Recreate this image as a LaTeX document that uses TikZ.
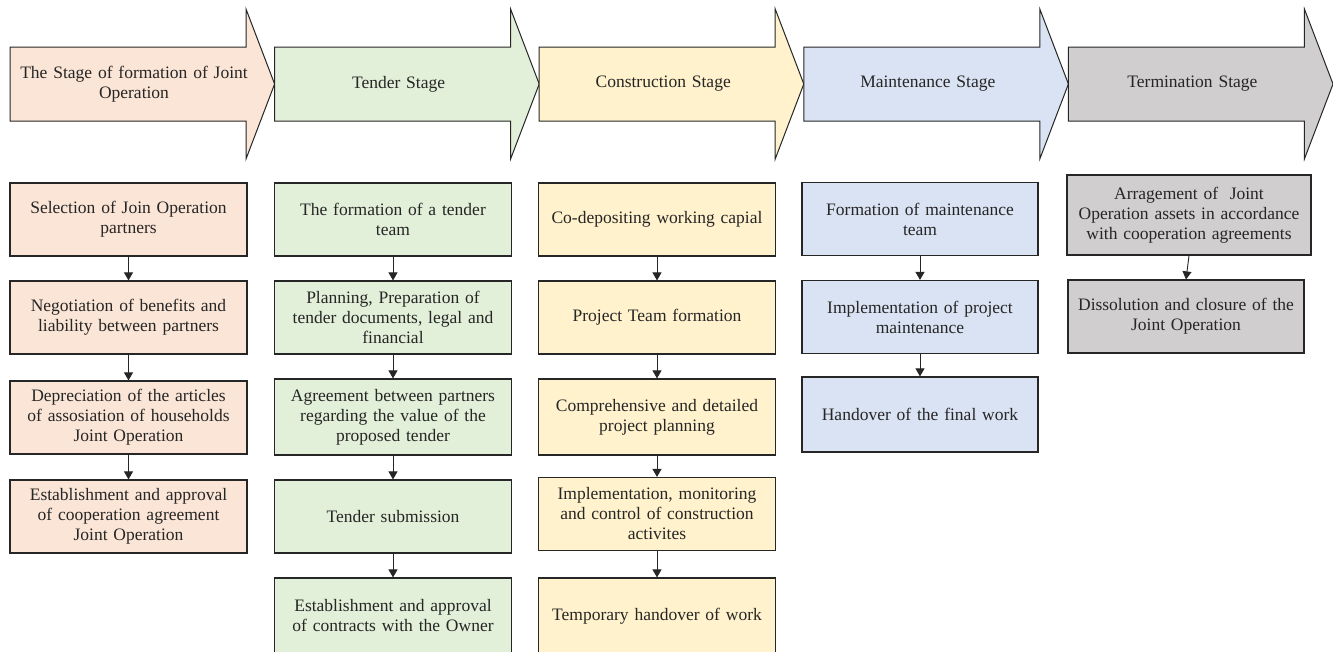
\documentclass[tikz,border=0pt]{standalone}
\usepackage{fontspec}
\setmainfont{Liberation Serif}
\usetikzlibrary{arrows.meta}

\definecolor{peach}{HTML}{FBE5D6}
\definecolor{leaf}{HTML}{E2F0D9}
\definecolor{sand}{HTML}{FFF2CC}
\definecolor{sky}{HTML}{DAE3F3}
\definecolor{stone}{HTML}{D0CECE}

\tikzset{
	stagearrow/.style={draw=black!85, line width=1pt},
	stagetext/.style={text width=228pt, align=center, text=black!85, font=\fontsize{17.5}{20}\selectfont},
	stepbox/.style={draw=black!85, line width=1.2pt, minimum width=237pt, minimum height=73pt,
		text width=230pt, align=center, inner sep=0pt, text=black!85, font=\fontsize{17.5}{20}\selectfont},
	link/.style={-{Triangle[length=8pt,width=9pt]}, line width=0.9pt, black!85}
}

\begin{document}
\begin{tikzpicture}[x=1pt, y=-1pt]
		\path[use as bounding box, fill=white] (0,0) rectangle (1333,651);

		% stage arrows
		\foreach \x/\c/\n/\t in {10/peach/jo/{The Stage of formation of Joint\\Operation},
			274.6/leaf/tender/Tender Stage, 539.2/sand/constr/Construction Stage,
			803.8/sky/maint/Maintenance Stage, 1068.4/stone/term/Termination Stage}
		{
			\draw[stagearrow, fill=\c] (\x,47) -- ++(236,0) -- ++(0,-38) -- ++(28.6,75)
				-- ++(-28.6,75) -- ++(0,-38) -- ++(-236,0) -- cycle;
			\node[stagetext] (\n) at ({\x+124},84) {\t};
		}

		% formation of joint operation
		\node[stepbox, fill=peach] (jo1) at (128.5, 219.5) {Selection of Join Operation\\partners};
		\node[stepbox, fill=peach] (jo2) at (128.5, 317.5) {Negotiation of benefits and\\liability between partners};
		\node[stepbox, fill=peach] (jo3) at (128.5, 417.5) {Depreciation of the articles\\of assosiation of households\\Joint Operation};
		\node[stepbox, fill=peach] (jo4) at (128.5, 516.5) {Establishment and approval\\of cooperation agreement\\Joint Operation};

		% tender
		\node[stepbox, fill=leaf] (te1) at (393, 219.5) {The formation of a tender\\team};
		\node[stepbox, fill=leaf] (te2) at (393, 317.5) {Planning, Preparation of\\tender documents, legal and\\financial};
		\node[stepbox, fill=leaf, minimum height=76pt] (te3) at (393, 417) {Agreement between partners\\regarding the value of the\\proposed tender};
		\node[stepbox, fill=leaf] (te4) at (393, 516.5) {Tender submission};
		\node[stepbox, fill=leaf, minimum height=76pt] (te5) at (393, 616) {Establishment and approval\\of contracts with the Owner};

		% construction
		\node[stepbox, fill=sand] (co1) at (657, 219.5) {Co-depositing working capial};
		\node[stepbox, fill=sand] (co2) at (657, 317.5) {Project Team formation};
		\node[stepbox, fill=sand, minimum height=76pt] (co3) at (657, 417) {Comprehensive and detailed\\project planning};
		\node[stepbox, fill=sand] (co4) at (657, 514) {Implementation, monitoring\\and control of construction\\activites};
		\node[stepbox, fill=sand, minimum height=76pt] (co5) at (657, 616) {Temporary handover of work};

		% maintenance
		\node[stepbox, fill=sky, minimum width=236pt] (ma1) at (920, 219) {Formation of maintenance\\team};
		\node[stepbox, fill=sky, minimum width=236pt] (ma2) at (920, 317) {Implementation of project\\maintenance};
		\node[stepbox, fill=sky, minimum width=236pt, minimum height=75pt] (ma3) at (920, 414.5) {Handover of the final work};

		% termination
		\node[stepbox, fill=stone, minimum width=244pt, minimum height=80pt] (tm1) at (1189, 215) {Arragement of~ Joint\\Operation assets in accordance\\with cooperation agreements};
		\node[stepbox, fill=stone, minimum width=236pt] (tm2) at (1186, 316.5) {Dissolution and closure of the\\Joint Operation};

		\draw[link] (jo1.south) -- (jo2.north);
		\draw[link] (jo2.south) -- (jo3.north);
		\draw[link] (jo3.south) -- (jo4.north);
		\draw[link] (te1.south) -- (te2.north);
		\draw[link] (te2.south) -- (te3.north);
		\draw[link] (te3.south) -- (te4.north);
		\draw[link] (te4.south) -- (te5.north);
		\draw[link] (co1.south) -- (co2.north);
		\draw[link] (co2.south) -- (co3.north);
		\draw[link] (co3.south) -- (co4.north);
		\draw[link] (co4.south) -- (co5.north);
		\draw[link] (ma1.south) -- (ma2.north);
		\draw[link] (ma2.south) -- (ma3.north);
		\draw[link] (tm1.south) -- (tm2.north);
	\end{tikzpicture}
\end{document}
